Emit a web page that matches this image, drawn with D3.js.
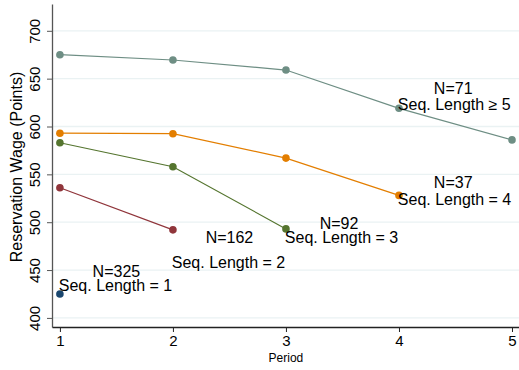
<!DOCTYPE html>
<html>
<head>
<meta charset="utf-8">
<script src="https://cdn.jsdelivr.net/npm/d3@7"></script>
<style>
  body { margin: 0; background: #fff; }
  svg { display: block; font-family: 'Liberation Sans', Arial, sans-serif; }
</style>
</head>
<body>
<svg id="chart" width="519" height="370"></svg>
<script>
const periods = [1, 2, 3, 4, 5]
const yTicks = [400, 450, 500, 550, 600, 650, 700]

const seq1 = [425]
const seq2 = [536, 492]
const seq3 = [583, 558, 493]
const seq4 = [593, 592.5, 567, 528]
const seq5 = [675, 669.5, 659, 619, 586]

const seriesNames = ['seq1', 'seq2', 'seq3', 'seq4', 'seq5']
const seriesColors = ['#1a476f', '#90353b', '#55752f', '#e37e00', '#6e8e84']

// N labels (centered) and sequence labels (left-aligned), in data coordinates
const nLabels = [
  { text: 'N=325', x: 1.5, y: 449 },
  { text: 'N=162', x: 2.5, y: 484.5 },
  { text: 'N=92', x: 3.47, y: 499 },
  { text: 'N=37', x: 4.48, y: 541 },
  { text: 'N=71', x: 4.48, y: 640 }
]
const seqLabels = [
  { text: 'Seq. Length = 1', x: 0.99, y: 434 },
  { text: 'Seq. Length = 2', x: 1.99, y: 458 },
  { text: 'Seq. Length = 3', x: 2.99, y: 484 },
  { text: 'Seq. Length = 4', x: 3.99, y: 524 },
  { text: 'Seq. Length \u2265 5', x: 3.99, y: 623.5 }
]

const svg = d3.select('#chart')
const margin = { left: 52, right: 0, top: 4, bottom: 43 }
const width = 519, height = 370

const x = d3.scaleLinear().domain([0.93, 5.062]).range([margin.left, width - margin.right])
const y = d3.scaleLinear().domain([390.5, 728]).range([height - margin.bottom, margin.top])

// gridlines
svg.append('g')
  .selectAll('line')
  .data(yTicks)
  .join('line')
  .attr('x1', margin.left)
  .attr('x2', width)
  .attr('y1', d => y(d))
  .attr('y2', d => y(d))
  .attr('stroke', '#eaf2f3')
  .attr('stroke-width', 1.3)

// y axis
const yAxis = svg.append('g')
  .attr('transform', `translate(${margin.left},0)`)
  .call(d3.axisLeft(y).tickValues(yTicks).tickSize(5).tickSizeOuter(0))
yAxis.select('.domain').attr('stroke', '#555').attr('stroke-width', 1.3)
yAxis.selectAll('.tick line').attr('stroke', '#555')
yAxis.selectAll('.tick text')
  .attr('font-size', 15)
  .attr('fill', '#000')
  .attr('transform', 'rotate(-90)')
  .attr('x', 0)
  .attr('y', -12)
  .attr('dy', 0)
  .attr('text-anchor', 'middle')
  .attr('font-family', 'Liberation Sans, Arial, sans-serif')

// x axis
const xAxis = svg.append('g')
  .attr('transform', `translate(0,${height - margin.bottom})`)
  .call(d3.axisBottom(x).tickValues(periods).tickFormat(d3.format('d')).tickSize(5).tickSizeOuter(0))
xAxis.select('.domain').attr('stroke', '#222').attr('stroke-width', 1.3)
xAxis.selectAll('.tick line').attr('stroke', '#222')
xAxis.selectAll('.tick text')
  .attr('font-size', 15)
  .attr('fill', '#000')
  .attr('y', 8)
  .attr('font-family', 'Liberation Sans, Arial, sans-serif')

// axis titles
svg.append('text')
  .attr('x', x(3))
  .attr('y', 362)
  .attr('text-anchor', 'middle')
  .attr('font-size', 12)
  .text('Period')

svg.append('text')
  .attr('transform', 'translate(22,167) rotate(-90)')
  .attr('text-anchor', 'middle')
  .attr('font-size', 16)
  .text('Reservation Wage (Points)')

// series
const allSeries = [seq1, seq2, seq3, seq4, seq5]
const line = d3.line().x((d, i) => x(periods[i])).y(d => y(d))

allSeries.forEach((vals, k) => {
  const g = svg.append('g').attr('class', seriesNames[k])
  g.append('path')
    .datum(vals)
    .attr('d', line)
    .attr('fill', 'none')
    .attr('stroke', seriesColors[k])
    .attr('stroke-width', 1.2)
  g.selectAll('circle')
    .data(vals)
    .join('circle')
    .attr('cx', (d, i) => x(periods[i]))
    .attr('cy', d => y(d))
    .attr('r', 3.8)
    .attr('fill', seriesColors[k])
})

// labels
svg.append('g')
  .selectAll('text')
  .data(nLabels)
  .join('text')
  .attr('x', d => x(d.x))
  .attr('y', d => y(d.y))
  .attr('text-anchor', 'middle')
  .attr('dominant-baseline', 'central')
  .attr('font-size', 16)
  .text(d => d.text)

svg.append('g')
  .selectAll('text')
  .data(seqLabels)
  .join('text')
  .attr('x', d => x(d.x))
  .attr('y', d => y(d.y))
  .attr('text-anchor', 'start')
  .attr('dominant-baseline', 'central')
  .attr('font-size', 16)
  .text(d => d.text)
</script>
</body>
</html>
